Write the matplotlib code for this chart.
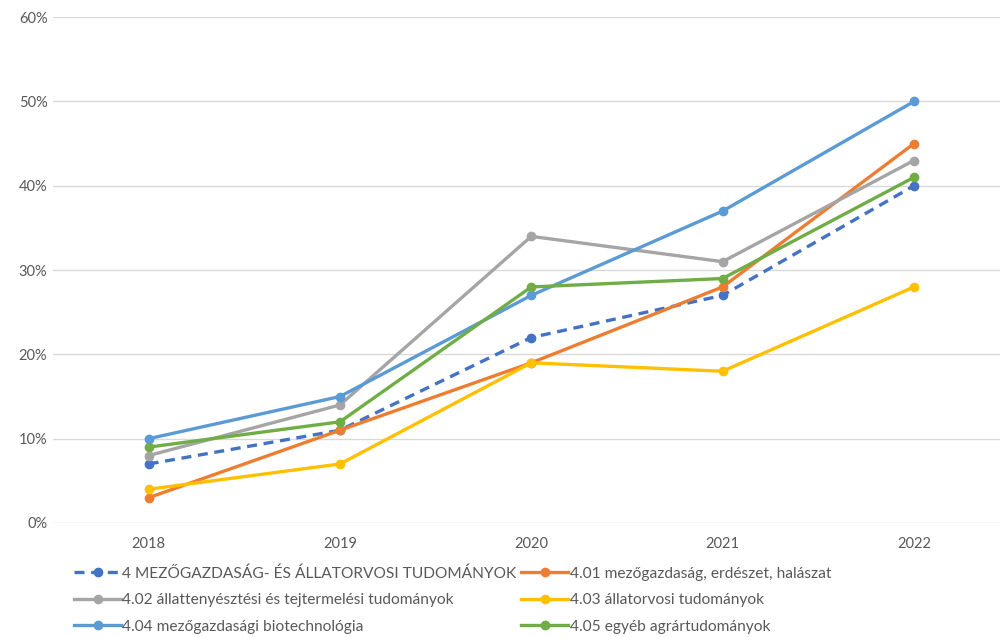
import matplotlib
matplotlib.use("Agg")
import matplotlib.pyplot as plt
from matplotlib.ticker import PercentFormatter

plt.rcParams['font.family'] = ['Lato', 'DejaVu Sans']

years = ["2018", "2019", "2020", "2021", "2022"]
names = [
    "4 MEZŐGAZDASÁG- ÉS ÁLLATORVOSI TUDOMÁNYOK",
    "4.01 mezőgazdaság, erdészet, halászat",
    "4.02 állattenyésztési és tejtermelési tudományok",
    "4.03 állatorvosi tudományok",
    "4.04 mezőgazdasági biotechnológia",
    "4.05 egyéb agrártudományok",
]
s4 = [7, 11, 22, 27, 40]
s401 = [3, 11, 19, 28, 45]
s402 = [8, 14, 34, 31, 43]
s403 = [4, 7, 19, 18, 28]
s404 = [10, 15, 27, 37, 50]
s405 = [9, 12, 28, 29, 41]
series = [s4, s401, s402, s403, s404, s405]
colors = ["#4472C4", "#ED7D31", "#A5A5A5", "#FFC000", "#5B9BD5", "#70AD47"]
styles = ["--", "-", "-", "-", "-", "-"]

fig = plt.figure(figsize=(10, 6.37), dpi=100)
ax = fig.add_axes([0.053, 0.179, 0.947, 0.794])
x = list(range(len(years)))
handles = []
for vals, c, ls, n in zip(series, colors, styles, names):
    h, = ax.plot(x, vals, color=c, linestyle=ls, linewidth=2.4, marker='o',
                 markersize=6, label=n, dashes=(3, 2) if ls == "--" else (None, None))
    handles.append(h)

ax.set_ylim(0, 60)
ax.set_yticks(range(0, 61, 10))
ax.yaxis.set_major_formatter(PercentFormatter(decimals=0))
ax.set_xlim(-0.5, 4.45)
ax.set_xticks(x)
ax.set_xticklabels(years)
ax.grid(axis='y', color='#D9D9D9', linewidth=1)
ax.set_axisbelow(True)
for sp in ax.spines.values():
    sp.set_visible(False)
ax.tick_params(length=0, colors='#595959', labelsize=10.5, pad=10)
ax.tick_params(axis='y', pad=4)

order = [0, 2, 4, 1, 3, 5]
leg = fig.legend([handles[i] for i in order], [names[i] for i in order],
                 loc='upper left', bbox_to_anchor=(0.068, 0.121), ncol=2,
                 frameon=False, fontsize=11.2, labelcolor='#595959',
                 handlelength=3.0, handletextpad=0.1, columnspacing=0.3,
                 labelspacing=0.8, borderaxespad=0)

fig.savefig("out.png", dpi=100)
